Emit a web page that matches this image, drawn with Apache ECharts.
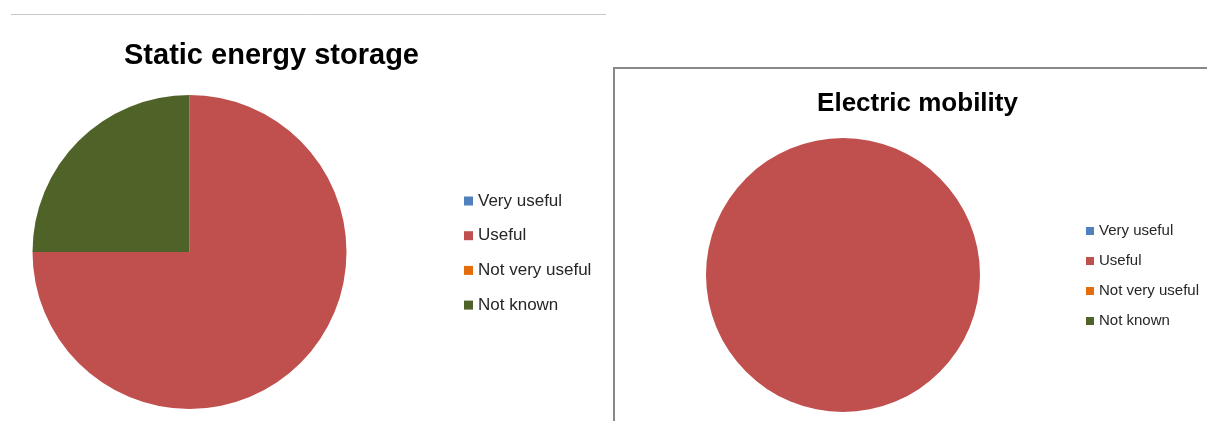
<!DOCTYPE html>
<html>
<head>
<meta charset="utf-8">
<script src="https://cdn.jsdelivr.net/npm/echarts@6/dist/echarts.min.js"></script>
<style>
html,body{margin:0;padding:0;background:#fff;}
#chart{width:1207px;height:421px;}
</style>
</head>
<body>
<div id="chart"></div>
<script>
const categories = ['Very useful', 'Useful', 'Not very useful', 'Not known'];
const staticValues = [0, 75, 0, 25];
const mobilityValues = [0, 100, 0, 0];
const titles = ['Static energy storage', 'Electric mobility'];
const colors = ['#4F81BD', '#C0504D', '#E46C0A', '#4F6228'];

const toData = vals => categories.map((c, i) => ({ name: c, value: vals[i] }));
const font = 'Liberation Sans, Arial, sans-serif';

const chart = echarts.init(document.getElementById('chart'), null, { renderer: 'canvas' });
chart.setOption({
  animation: false,
  color: colors,
  title: [
    { text: titles[0], left: 266.5, top: 36, textAlign: 'center',
      textStyle: { fontFamily: font, fontSize: 29, fontWeight: 'bold', color: '#000' } },
    { text: titles[1], left: 912.5, top: 86, textAlign: 'center',
      textStyle: { fontFamily: font, fontSize: 26, fontWeight: 'bold', color: '#000' } }
  ],
  legend: [
    { orient: 'vertical', left: 459, top: 187, icon: 'rect', itemWidth: 9, itemHeight: 9,
      itemGap: 16.7, selectedMode: false, data: categories,
      textStyle: { fontFamily: font, fontSize: 17, lineHeight: 18, color: '#262626' } },
    { orient: 'vertical', left: 1081, top: 218, icon: 'rect', itemWidth: 8, itemHeight: 8,
      itemGap: 14, selectedMode: false, data: categories,
      textStyle: { fontFamily: font, fontSize: 15, lineHeight: 16, color: '#262626' } }
  ],
  graphic: [
    { type: 'line', shape: { x1: 11, y1: 14.5, x2: 606, y2: 14.5 },
      style: { stroke: '#c8c8c8', lineWidth: 1 }, silent: true },
    { type: 'polyline', shape: { points: [[614, 425], [614, 68], [1210, 68]] },
      style: { stroke: '#888888', lineWidth: 2, fill: null }, silent: true }
  ],
  series: [
    { type: 'pie', name: titles[0], center: [189.5, 252], radius: 157, startAngle: 90,
      clockwise: true, label: { show: false }, labelLine: { show: false },
      emphasis: { disabled: true }, itemStyle: { borderWidth: 0 },
      data: toData(staticValues) },
    { type: 'pie', name: titles[1], center: [843, 275], radius: 137, startAngle: 90,
      clockwise: true, label: { show: false }, labelLine: { show: false },
      emphasis: { disabled: true }, itemStyle: { borderWidth: 0 },
      data: toData(mobilityValues) }
  ]
});
</script>
</body>
</html>
